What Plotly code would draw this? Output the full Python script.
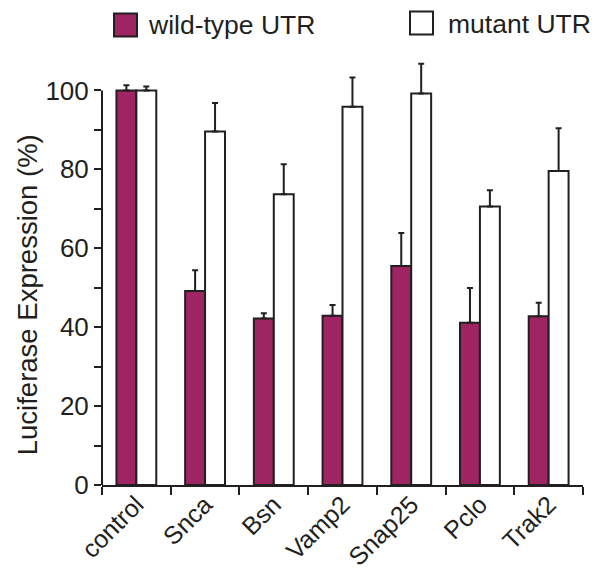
import plotly.graph_objects as go

categories = ["control", "Snca", "Bsn", "Vamp2", "Snap25", "Pclo", "Trak2"]
wild_type = [100, 49.2, 42.2, 42.9, 55.5, 41.1, 42.8]
wild_type_err = [1.3, 5.2, 1.3, 2.7, 8.4, 8.8, 3.4]
mutant = [100, 89.6, 73.7, 95.9, 99.2, 70.6, 79.6]
mutant_err = [1.0, 7.2, 7.6, 7.4, 7.6, 4.1, 10.8]
y_tick_vals = [0, 10, 20, 30, 40, 50, 60, 70, 80, 90, 100]
y_tick_text = ["0", "", "20", "", "40", "", "60", "", "80", "", "100"]

W, H = 592, 571
ML, MR, MT, MB = 102, 9, 50.5, 86
DARK = "#231F20"
WILD = "#9E2462"
FONT = "Liberation Sans, Arial, sans-serif"

pw = W - ML - MR
ph = H - MT - MB


def px_x(px):
    return (px - ML) / pw


def px_y(py):
    return (H - MB - py) / ph


fig = go.Figure()
fig.add_trace(go.Bar(
    x=categories, y=wild_type, name="wild-type UTR",
    marker=dict(color=WILD, line=dict(color=DARK, width=2)),
    error_y=dict(type="data", array=wild_type_err, arrayminus=[0] * len(wild_type_err),
                 symmetric=False, color=DARK, thickness=2, width=3),
    showlegend=False,
))
fig.add_trace(go.Bar(
    x=categories, y=mutant, name="mutant UTR",
    marker=dict(color="white", line=dict(color=DARK, width=2)),
    error_y=dict(type="data", array=mutant_err, arrayminus=[0] * len(mutant_err),
                 symmetric=False, color=DARK, thickness=2, width=3),
    showlegend=False,
))

shapes = [
    # y-axis line from 0 to 100
    dict(type="line", xref="paper", yref="y", x0=0, x1=0, y0=0, y1=100,
         line=dict(color=DARK, width=2)),
    # legend squares
    dict(type="rect", xref="paper", yref="paper",
         x0=px_x(114), x1=px_x(137), y0=px_y(36), y1=px_y(13),
         fillcolor=WILD, line=dict(color=DARK, width=2)),
    dict(type="rect", xref="paper", yref="paper",
         x0=px_x(410), x1=px_x(433), y0=px_y(34), y1=px_y(11),
         fillcolor="white", line=dict(color=DARK, width=2)),
]
annotations = [
    dict(text="wild-type UTR", xref="paper", yref="paper", x=px_x(146), y=px_y(24),
         xanchor="left", yanchor="middle", showarrow=False,
         font=dict(size=26.5, color=DARK, family=FONT)),
    dict(text="mutant UTR", xref="paper", yref="paper", x=px_x(446), y=px_y(23),
         xanchor="left", yanchor="middle", showarrow=False,
         font=dict(size=26.5, color=DARK, family=FONT)),
    dict(text="Luciferase Expression (%)", xref="paper", yref="paper",
         x=px_x(27), y=px_y(295), xanchor="center", yanchor="middle",
         textangle=-90, showarrow=False,
         font=dict(size=27.5, color=DARK, family=FONT)),
]

fig.update_layout(
    width=W, height=H,
    margin=dict(l=ML, r=MR, t=MT, b=MB, pad=0),
    paper_bgcolor="white", plot_bgcolor="white",
    barmode="group", bargap=0.42, bargroupgap=0,
    font=dict(family=FONT, color=DARK, size=24),
    shapes=shapes, annotations=annotations,
    showlegend=False,
)
fig.update_xaxes(
    type="category", showline=True, linecolor=DARK, linewidth=2,
    ticks="outside", tickson="boundaries", ticklen=8, tickwidth=2, tickcolor=DARK,
    tickangle=-45, tickfont=dict(size=25, color=DARK, family=FONT),
    ticklabelstandoff=-7,
    showgrid=False, zeroline=False, automargin=False,
)
fig.update_yaxes(
    range=[0, 110], showline=False, showgrid=False, zeroline=False,
    tickmode="array", tickvals=y_tick_vals, ticktext=y_tick_text,
    ticks="outside", ticklen=7, tickwidth=2, tickcolor=DARK,
    tickfont=dict(size=26, color=DARK, family=FONT),
    automargin=False,
)

fig.write_html("out.html")
